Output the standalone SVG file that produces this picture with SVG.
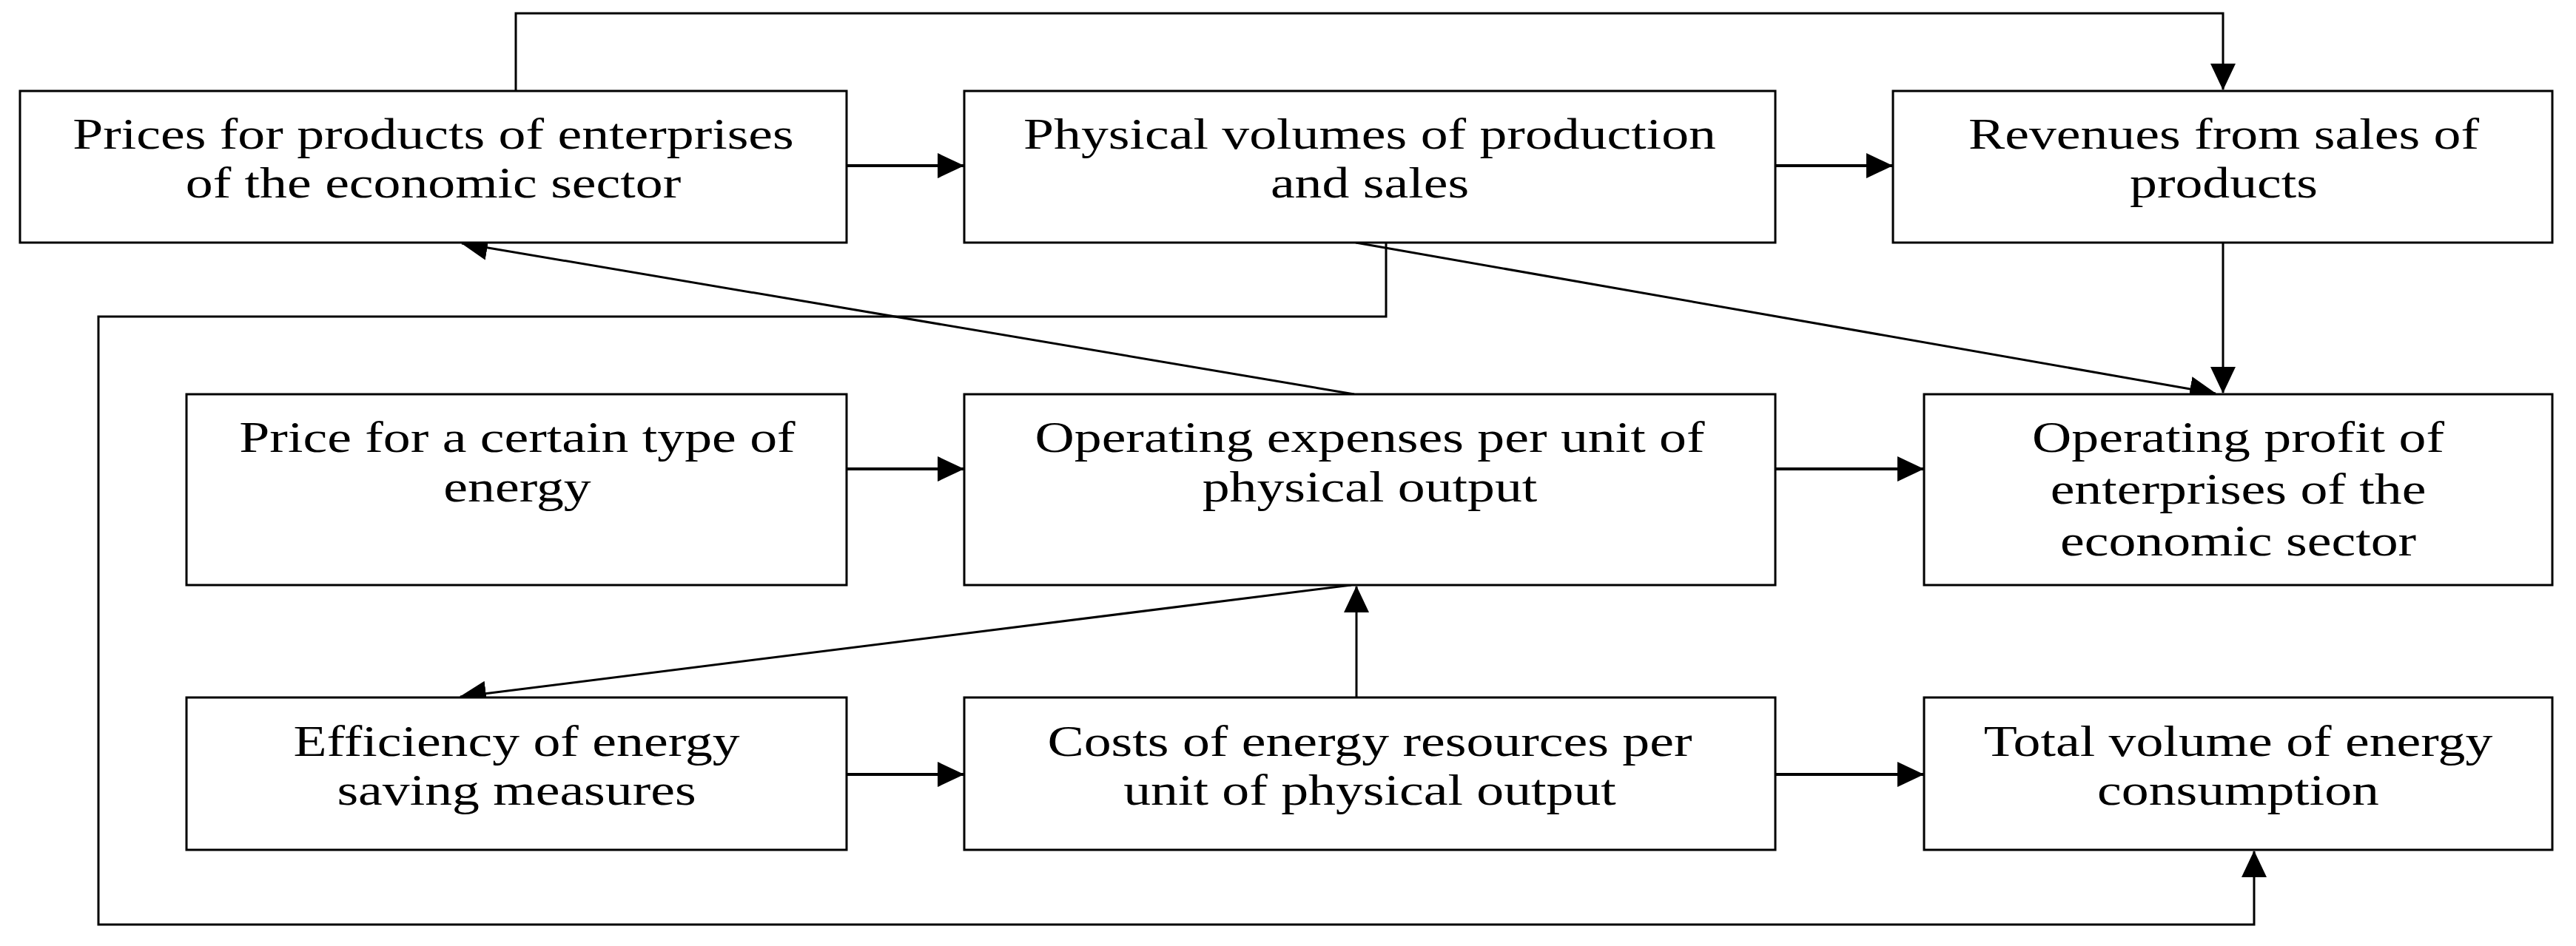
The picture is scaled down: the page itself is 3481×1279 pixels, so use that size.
<svg xmlns="http://www.w3.org/2000/svg" width="3481" height="1279" viewBox="0 0 3481 1279">
<style>
.box{fill:#fff;stroke:#000;stroke-width:3}
.t{font-family:"Liberation Serif","Times New Roman",serif;font-size:59px;fill:#000;text-anchor:middle}
.c{fill:none;stroke:#000;stroke-width:3}
.h{fill:none;stroke:#000;stroke-width:4}
</style>
<defs>
<marker id="ah" markerUnits="userSpaceOnUse" viewBox="0 0 36 34" markerWidth="36" markerHeight="34" refX="35" refY="17" orient="auto">
<path d="M0,0 L36,17 L0,34 z" fill="#000"/>
</marker>
</defs>
<rect width="3481" height="1279" fill="#fff"/>
<g id="connectors">
<polyline class="c" points="697,123 697,18 3004,18 3004,121" marker-end="url(#ah)"/>
<line class="h" x1="1144" y1="224" x2="1302" y2="224" marker-end="url(#ah)"/>
<line class="h" x1="2399" y1="224" x2="2557" y2="224" marker-end="url(#ah)"/>
<line class="c" x1="3004" y1="328" x2="3004" y2="531" marker-end="url(#ah)"/>
<line class="c" x1="1832" y1="328" x2="2994" y2="532" marker-end="url(#ah)"/>
<line class="c" x1="1830" y1="533" x2="624" y2="329" marker-end="url(#ah)"/>
<polyline class="c" points="1873,328 1873,428 133,428 133,1250 3046,1250 3046,1151" marker-end="url(#ah)"/>
<line class="h" x1="1144" y1="634" x2="1302" y2="634" marker-end="url(#ah)"/>
<line class="h" x1="2399" y1="634" x2="2599" y2="634" marker-end="url(#ah)"/>
<line class="c" x1="1826" y1="791" x2="622" y2="942" marker-end="url(#ah)"/>
<line class="c" x1="1833" y1="943" x2="1833" y2="793" marker-end="url(#ah)"/>
<line class="h" x1="1144" y1="1047" x2="1302" y2="1047" marker-end="url(#ah)"/>
<line class="h" x1="2399" y1="1047" x2="2599" y2="1047" marker-end="url(#ah)"/>
</g>
<g id="n1">
<rect class="box" x="27" y="123" width="1117" height="205"/>
<text class="t" transform="translate(585.5,201) scale(1.25,1)">Prices for products of enterprises</text>
<text class="t" transform="translate(585.5,267) scale(1.25,1)">of the economic sector</text>
</g>
<g id="n2">
<rect class="box" x="1303" y="123" width="1096" height="205"/>
<text class="t" transform="translate(1851,201) scale(1.25,1)">Physical volumes of production</text>
<text class="t" transform="translate(1851,267) scale(1.25,1)">and sales</text>
</g>
<g id="n3">
<rect class="box" x="2558" y="123" width="891" height="205"/>
<text class="t" transform="translate(3005,201) scale(1.25,1)">Revenues  from sales of</text>
<text class="t" transform="translate(3005,267) scale(1.25,1)">products</text>
</g>
<g id="n4">
<rect class="box" x="252" y="533" width="892" height="258"/>
<text class="t" transform="translate(699,611) scale(1.25,1)">Price for a certain type of</text>
<text class="t" transform="translate(699,678) scale(1.25,1)">energy</text>
</g>
<g id="n5">
<rect class="box" x="1303" y="533" width="1096" height="258"/>
<text class="t" transform="translate(1851,611) scale(1.25,1)">Operating expenses per unit of</text>
<text class="t" transform="translate(1851,678) scale(1.25,1)">physical output</text>
</g>
<g id="n6">
<rect class="box" x="2600" y="533" width="849" height="258"/>
<text class="t" transform="translate(3024.5,611) scale(1.25,1)">Operating profit of</text>
<text class="t" transform="translate(3024.5,681) scale(1.25,1)">enterprises of the</text>
<text class="t" transform="translate(3024.5,751) scale(1.25,1)">economic sector</text>
</g>
<g id="n7">
<rect class="box" x="252" y="943" width="892" height="206"/>
<text class="t" transform="translate(698,1022) scale(1.25,1)">Efficiency of energy</text>
<text class="t" transform="translate(698,1088) scale(1.25,1)">saving measures</text>
</g>
<g id="n8">
<rect class="box" x="1303" y="943" width="1096" height="206"/>
<text class="t" transform="translate(1851,1022) scale(1.25,1)">Costs of energy resources per</text>
<text class="t" transform="translate(1851,1088) scale(1.25,1)">unit of physical output</text>
</g>
<g id="n9">
<rect class="box" x="2600" y="943" width="849" height="206"/>
<text class="t" transform="translate(3024.5,1022) scale(1.25,1)">Total volume of energy</text>
<text class="t" transform="translate(3024.5,1088) scale(1.25,1)">consumption</text>
</g>
</svg>
